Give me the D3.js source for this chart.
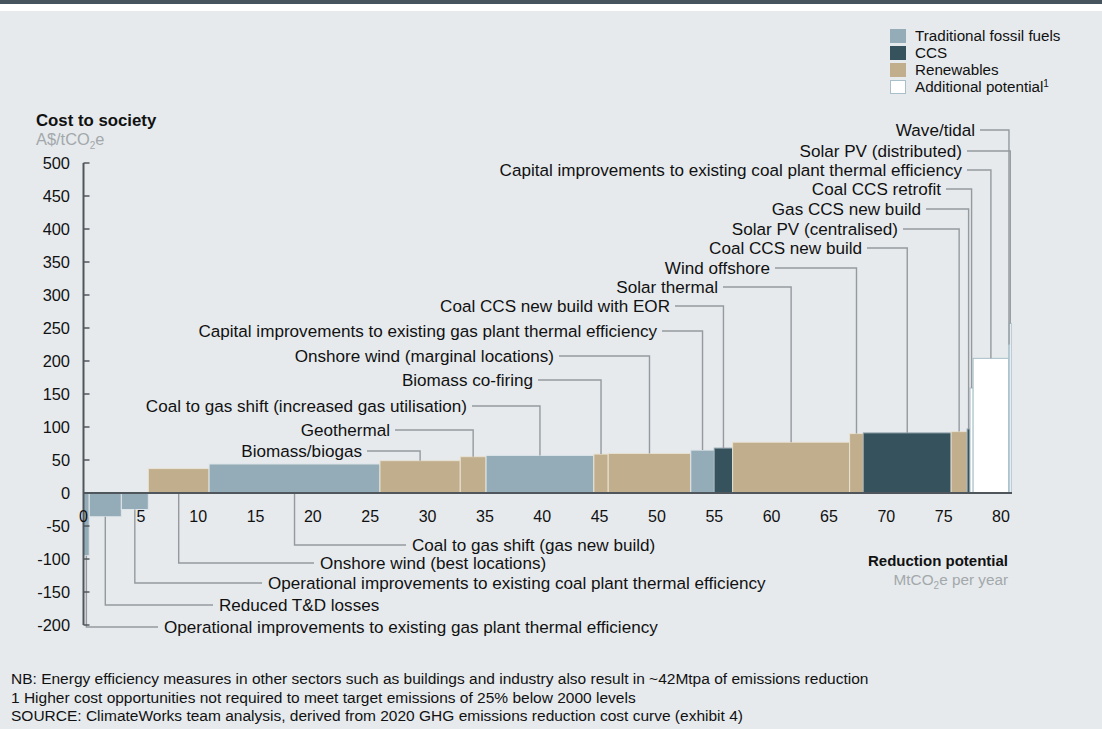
<!DOCTYPE html>
<html><head><meta charset="utf-8">
<script src="https://cdn.jsdelivr.net/npm/d3@7"></script>
<style>
html,body{margin:0;padding:0;background:#fff;}
svg{display:block;font-family:"Liberation Sans",Arial,sans-serif;}
</style></head><body>
<svg id="c" width="1102" height="729"></svg>
<script>
// ---- data ----
const categories = [
  "Operational improvements to existing gas plant thermal efficiency",
  "Reduced T&D losses",
  "Operational improvements to existing coal plant thermal efficiency",
  "Onshore wind (best locations)",
  "Coal to gas shift (gas new build)",
  "Biomass/biogas",
  "Geothermal",
  "Coal to gas shift (increased gas utilisation)",
  "Biomass co-firing",
  "Onshore wind (marginal locations)",
  "Capital improvements to existing gas plant thermal efficiency",
  "Coal CCS new build with EOR",
  "Solar thermal",
  "Wind offshore",
  "Coal CCS new build",
  "Solar PV (centralised)",
  "Gas CCS new build",
  "Coal CCS retrofit",
  "Capital improvements to existing coal plant thermal efficiency",
  "Wave/tidal",
  "Solar PV (distributed)"
];
const potential = [0.5, 2.8, 2.35, 5.3, 14.9, 7.0, 2.25, 9.4, 1.25, 7.2, 2.05, 1.6, 10.2, 1.2, 7.65, 1.4, 0.25, 0.27, 3.1, 0.05, 0.17];
const cost = [-95, -36, -25, 37, 44, 49, 55, 57, 59, 60, 65, 68, 77, 90, 91, 93, 97, 159, 204, 225, 257];
const group = ["T","T","T","R","T","R","R","T","R","R","T","C","R","R","C","R","C","A","A","A","A"];
const groupNames = ["Traditional fossil fuels", "CCS", "Renewables", "Additional potential"];
const groupKeys = ["T", "C", "R", "A"];
const xTicks = [0,5,10,15,20,25,30,35,40,45,50,55,60,65,70,75,80];
const yTicks = [500,450,400,350,300,250,200,150,100,50,0,-50,-100,-150,-200];
const footnotes = [
  "NB: Energy efficiency measures in other sectors such as buildings and industry also result in ~42Mtpa of emissions reduction",
  "1 Higher cost opportunities not required to meet target emissions of 25% below 2000 levels",
  "SOURCE: ClimateWorks team analysis, derived from 2020 GHG emissions reduction cost curve (exhibit 4)"
];

// ---- layout (annotation placement, px) ----
// callout: [label index, side, labelY, textEdgeX]
const calloutLayout = [
  [0, "below", 627, 164], [1, "below", 605, 219], [2, "below", 583, 268],
  [3, "below", 563, 320], [4, "below", 545, 412],
  [5, "above", 451, 362], [6, "above", 430, 390], [7, "above", 406, 467],
  [8, "above", 380, 533], [9, "above", 356, 554], [10, "above", 331, 657],
  [11, "above", 306, 670], [12, "above", 287, 718], [13, "above", 268, 770],
  [14, "above", 248, 862], [15, "above", 229, 898], [16, "above", 209, 921],
  [17, "above", 189, 941], [18, "above", 170, 962], [19, "above", 130, 975],
  [20, "above", 151, 962]
];

const colors = {T: "#94acb8", C: "#36525d", R: "#c0ae8c", A: "#ffffff"};
const strokes = {T: "#dfe6ea", C: "#8da0a8", R: "#e9e2d4", A: "#a9c0ca"};
const FS = 17.1;

const svg = d3.select("#c");
svg.append("rect").attr("x",0).attr("y",0).attr("width",1102).attr("height",729).attr("fill","#ffffff");
svg.append("rect").attr("x",0).attr("y",0).attr("width",1102).attr("height",4).attr("fill","#47535d");
svg.append("rect").attr("x",0).attr("y",11).attr("width",1102).attr("height",718).attr("fill","#e6eaed");

const x = d3.scaleLinear().domain([0, 80]).range([83.5, 1001]);
const y = d3.scaleLinear().domain([-200, 500]).range([625, 163]);

// cumulative
let acc = 0;
const bars = categories.map((c, i) => {
  const d = {name: c, x0: acc, x1: acc + potential[i], v: cost[i], g: group[i]};
  acc += potential[i];
  return d;
});

// bars
svg.append("g").selectAll("rect").data(bars).join("rect")
  .attr("x", d => x(d.x0))
  .attr("width", d => Math.max(0.8, x(d.x1) - x(d.x0)))
  .attr("y", d => Math.min(y(d.v), y(0)))
  .attr("height", d => Math.abs(y(d.v) - y(0)))
  .attr("fill", d => colors[d.g])
  .attr("stroke", d => strokes[d.g])
  .attr("stroke-width", 1);

// callouts
const cg = svg.append("g");
calloutLayout.forEach(([i, side, ly, tx]) => {
  const b = bars[i];
  const cx = x((b.x0 + b.x1) / 2);
  let pts;
  if (side === "below") {
    const y0 = b.v < 0 ? y(b.v) : y(0);
    pts = [[cx, y0], [cx, ly], [tx - 6, ly]];
    cg.append("text").attr("x", tx).attr("y", ly).attr("dy", "0.35em")
      .attr("font-size", FS).attr("fill", "#111").text(b.name);
  } else {
    pts = [[tx + 5, ly], [cx, ly], [cx, y(b.v)]];
    cg.append("text").attr("x", tx).attr("y", ly).attr("dy", "0.35em")
      .attr("text-anchor", "end").attr("font-size", FS).attr("fill", "#111").text(b.name);
  }
  cg.append("path").attr("d", d3.line()(pts)).attr("fill", "none")
    .attr("stroke", "#949a9e").attr("stroke-width", 1.4);
});

// axes
const ag = svg.append("g");
ag.append("line").attr("x1", x(0)).attr("x2", x(0)).attr("y1", y(500)).attr("y2", y(-200))
  .attr("stroke", "#50575c").attr("stroke-width", 2);
ag.selectAll(".yt").data(yTicks).join("line")
  .attr("x1", x(0)).attr("x2", x(0) + 6).attr("y1", d => y(d)).attr("y2", d => y(d))
  .attr("stroke", "#50575c").attr("stroke-width", 1.5);
ag.selectAll(".yl").data(yTicks).join("text")
  .attr("x", 70).attr("y", d => y(d)).attr("dy", "0.35em").attr("text-anchor", "end")
  .attr("font-size", 16.4).attr("fill", "#111").text(d => d);
ag.append("line").attr("x1", x(0)).attr("x2", 1012).attr("y1", y(0)).attr("y2", y(0))
  .attr("stroke", "#50575c").attr("stroke-width", 2);
ag.selectAll(".xl").data(xTicks).join("text")
  .attr("x", d => x(d)).attr("y", y(0) + 23).attr("dy", "0.35em").attr("text-anchor", "middle")
  .attr("font-size", 16).attr("fill", "#111").text(d => d);

// axis titles
svg.append("text").attr("x", 36).attr("y", 126).attr("font-size", 16.8).attr("font-weight", "bold")
  .attr("fill", "#111").text("Cost to society");
const yu = svg.append("text").attr("x", 36).attr("y", 145).attr("font-size", 16.4).attr("fill", "#a3a8ab");
yu.append("tspan").text("A$/tCO");
yu.append("tspan").attr("font-size", 10).attr("dy", 4).text("2");
yu.append("tspan").attr("dy", -4).text("e");

svg.append("text").attr("x", 1008).attr("y", 566).attr("text-anchor", "end").attr("font-size", 15)
  .attr("font-weight", "bold").attr("fill", "#111").text("Reduction potential");
const xu = svg.append("text").attr("x", 1008).attr("y", 585).attr("text-anchor", "end").attr("font-size", 15.3).attr("fill", "#a3a8ab");
xu.append("tspan").text("MtCO");
xu.append("tspan").attr("font-size", 10).attr("dy", 4).text("2");
xu.append("tspan").attr("dy", -4).text("e per year");

// legend
const lg = svg.append("g");
groupKeys.forEach((k, i) => {
  lg.append("rect").attr("x", 890.5).attr("y", 29.5 + i * 17).attr("width", 15).attr("height", 13)
    .attr("fill", colors[k]).attr("stroke", k === "A" ? "#a9c0ca" : colors[k]).attr("stroke-width", 1);
  const t = lg.append("text").attr("x", 915).attr("y", 36 + i * 17).attr("dy", "0.35em")
    .attr("font-size", 15.2).attr("fill", "#111").text(groupNames[i]);
  if (k === "A") t.append("tspan").attr("font-size", 10).attr("dy", -5).text("1");
});

// footnotes
svg.selectAll(".fn").data(footnotes).join("text")
  .attr("x", 11).attr("y", (d, i) => 679 + i * 18.5).attr("dy", "0.35em")
  .attr("font-size", 15.5).attr("fill", "#111").text(d => d);
</script>
</body></html>
